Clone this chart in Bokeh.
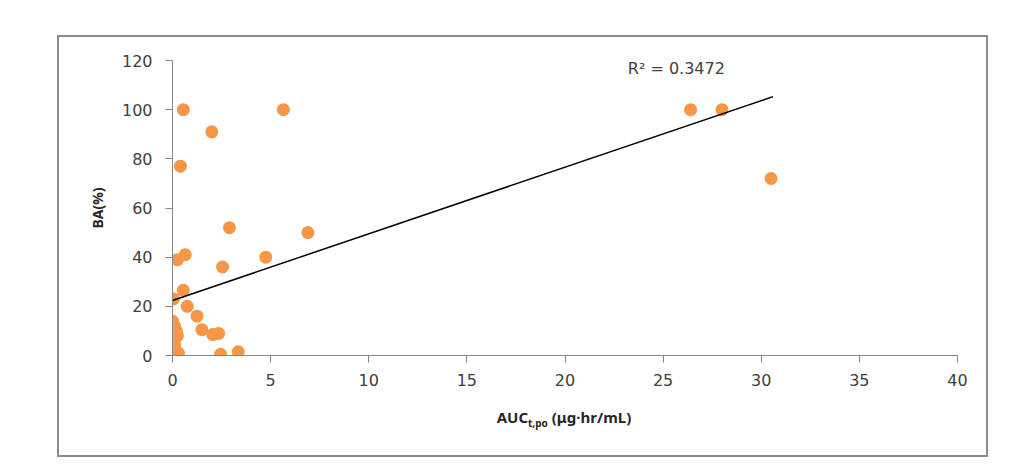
from bokeh.plotting import figure
from bokeh.layouts import column
from bokeh.models import Range1d, Label, FixedTicker, Div
from bokeh.embed import file_html
from bokeh.resources import INLINE

# ---- data ----
auc = [0.55, 5.65, 2.0, 0.4, 0.65, 0.25, 2.9, 4.75, 6.9, 2.55, 26.4, 28.0, 30.5,
       0.55, 0.05, 0.75, 1.25, 1.5, 2.05, 2.35, 2.45, 3.35,
       0.0, 0.1, 0.2, 0.25, 0.05, 0.1, 0.05, 0.15, 0.02, 0.3]
ba = [100, 100, 91, 77, 41, 39, 52, 40, 50, 36, 100, 100, 72,
      26.5, 23, 20, 16, 10.5, 8.5, 9, 0.5, 1.5,
      14, 12, 10, 8, 6, 4.5, 3, 2, 0.5, 1]
trend_x = [0.0, 30.6]
trend_y = [22.4, 105.3]
x_ticks = [0, 5, 10, 15, 20, 25, 30, 35, 40]
y_ticks = [0, 20, 40, 60, 80, 100, 120]
r2_text = "R² = 0.3472"
y_title = "BA(%)"
x_title_main = "AUC"
x_title_sub = "t,po"
x_title_unit = "(μg·hr/mL)"

p = figure(width=927, height=363, output_backend="svg", toolbar_location=None,
           x_range=Range1d(0, 40), y_range=Range1d(0, 120),
           min_border_left=113, min_border_right=29, min_border_top=23,
           min_border_bottom=45, margin=(0, 0, 0, 0))
p.grid.visible = False
p.outline_line_color = None
p.background_fill_color = "white"
p.border_fill_color = "white"

for ax in (p.xaxis, p.yaxis):
    ax.axis_line_color = "#868686"
    ax.major_tick_line_color = "#868686"
    ax.major_tick_in = 0
    ax.major_tick_out = 7
    ax.minor_tick_line_color = None
    ax.major_label_text_font = "DejaVu Sans"
    ax.major_label_text_font_size = "16px"
    ax.major_label_text_color = "#404040"

p.xaxis.ticker = FixedTicker(ticks=x_ticks)
p.yaxis.ticker = FixedTicker(ticks=y_ticks)
p.yaxis.major_label_standoff = 13
p.xaxis.major_label_standoff = 11

p.yaxis.axis_label = y_title
p.yaxis.axis_label_text_font = "Noto Sans"
p.yaxis.axis_label_text_font_style = "bold"
p.yaxis.axis_label_text_font_size = "14px"
p.yaxis.axis_label_text_color = "#262626"
p.yaxis.axis_label_standoff = 12

p.scatter(auc, ba, size=13, fill_color="#F79646", line_color=None)
p.line(trend_x, trend_y, line_color="black", line_width=1.5)

p.add_layout(Label(x=23.2, y=116.8, text=r2_text, text_font="DejaVu Sans",
                   text_font_size="16px", text_color="#404040",
                   text_baseline="middle", text_align="left"))

xlab = Div(
    text=('<div style="width:927px; box-sizing:border-box; text-align:center; '
          'padding-left:83px; padding-top:7px; '
          'font-family:\'Noto Sans\'; font-weight:bold; font-size:15px; color:#262626;">'
          f'{x_title_main}<sub style="font-size:10px">{x_title_sub}</sub> {x_title_unit}</div>'),
    width=927, height=55, margin=(0, 0, 0, 0))

layout = column(p, xlab, margin=(35, 0, 0, 57), spacing=0,
                styles={"border": "2px solid #8c8c8c", "background-color": "white"})

open("out.html", "w").write(file_html(layout, INLINE))
